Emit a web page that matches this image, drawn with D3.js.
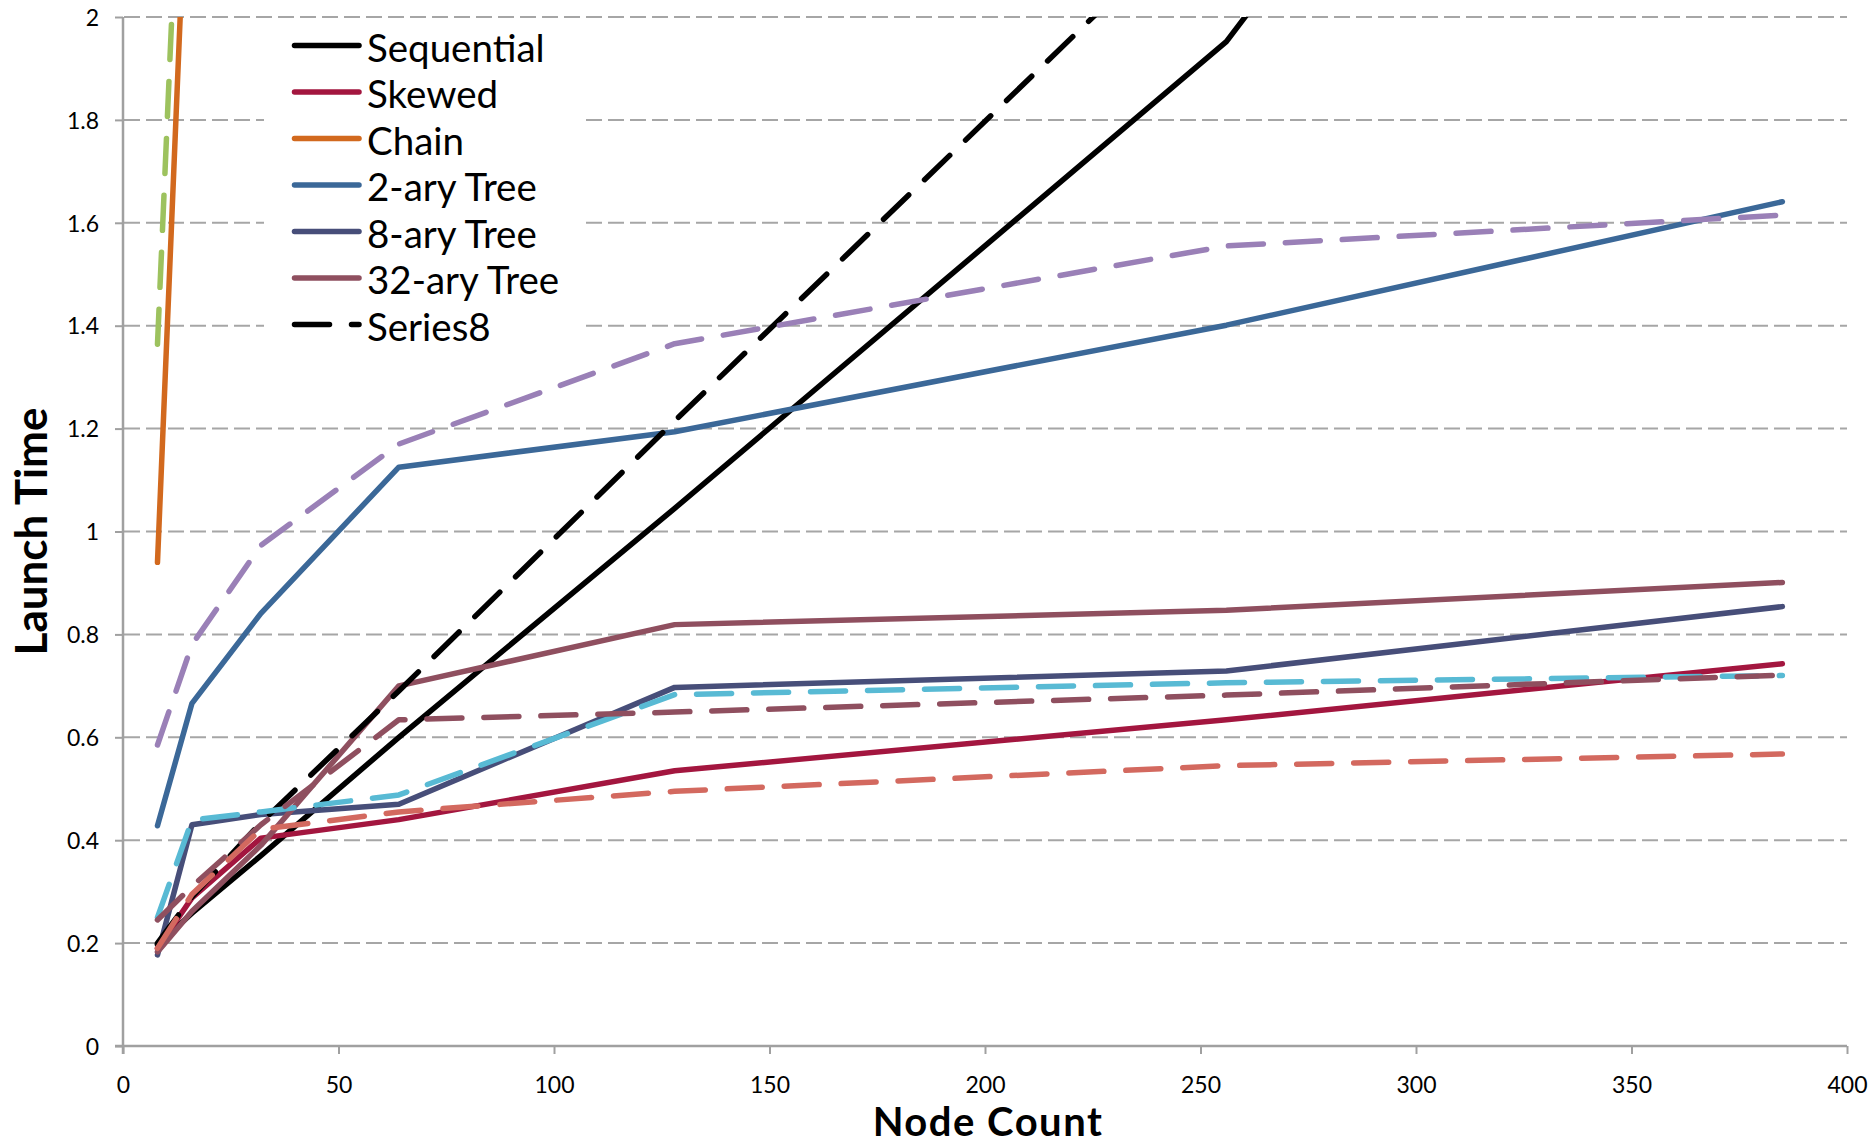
<!DOCTYPE html>
<html>
<head>
<meta charset="utf-8">
<script src="https://cdn.jsdelivr.net/npm/d3@7"></script>
<style>
  html, body { margin: 0; padding: 0; background: #ffffff; }
  svg { display: block; }
  text { font-family: Lato, "Open Sans", sans-serif; fill: #000; }
</style>
</head>
<body>
<svg id="chart" width="1871" height="1146"></svg>
<script>
// ---- data ----
const nodeCounts = [8, 16, 32, 64, 128, 256, 385];
const xTicks = [0, 50, 100, 150, 200, 250, 300, 350, 400];
const yTicks = [0, 0.2, 0.4, 0.6, 0.8, 1, 1.2, 1.4, 1.6, 1.8, 2];

const sequential = [0.197, 0.258, 0.37, 0.60, 1.045, 1.952, 3.38];
const skewed     = [0.19, 0.288, 0.404, 0.44, 0.535, 0.634, 0.743];
const chain      = [0.94, 2.55];
const tree2      = [0.428, 0.666, 0.841, 1.125, 1.194, 1.401, 1.641];
const tree8      = [0.177, 0.43, 0.45, 0.47, 0.697, 0.729, 0.854];
const tree32     = [0.183, 0.262, 0.39, 0.70, 0.819, 0.847, 0.901];
const series8    = [0.2, 0.29, 0.434, 0.69, 1.215, 2.25];
const series9    = [1.364, 2.9];
const series10   = [0.585, 0.78, 0.973, 1.17, 1.365, 1.555, 1.615];
const series11   = [0.25, 0.439, 0.455, 0.488, 0.683, 0.706, 0.72];
const series12   = [0.245, 0.31, 0.43, 0.634, 0.649, 0.682, 0.721];
const series13   = [0.19, 0.295, 0.421, 0.455, 0.495, 0.545, 0.5675];

const seriesNames  = ["Sequential", "Skewed", "Chain", "2-ary Tree", "8-ary Tree", "32-ary Tree", "Series8",
                      "Series9", "Series10", "Series11", "Series12", "Series13"];
const seriesValues = [sequential, skewed, chain, tree2, tree8, tree32, series8,
                      series9, series10, series11, series12, series13];
const seriesColors = ["#000000", "#a3163f", "#d2691e", "#3b6898", "#474e79", "#8f4f5f", "#000000",
                      "#9dc25e", "#9a80b7", "#58bad4", "#8f4f5f", "#d3695f"];
const seriesDashed = [false, false, false, false, false, false, true, true, true, true, true, true];
const legendCount = 7;

(function () {
  // ---- layout ----
  const pLeft = 123, pRight = 1847, pTop = 17, pBottom = 1046;
  const svg = d3.select("#chart");

  const x = d3.scaleLinear().domain([0, 400]).range([pLeft, pRight]);
  const y = d3.scaleLinear().domain([0, 2]).range([pBottom, pTop]);

  const gridColor = "#a6a6a6";
  const axisColor = "#a0a0a0";

  // gridlines
  svg.append("g").selectAll("line")
    .data(yTicks.filter(d => d > 0))
    .join("line")
    .attr("x1", pLeft + 1).attr("x2", pRight)
    .attr("y1", d => y(d)).attr("y2", d => y(d))
    .attr("stroke", gridColor).attr("stroke-width", 2)
    .attr("stroke-dasharray", "16,6");

  // y axis
  const yAxis = d3.axisLeft(y).tickValues(yTicks).tickSize(8).tickPadding(0)
    .tickFormat(d => String(+d.toFixed(1)));
  const gy = svg.append("g").attr("transform", `translate(${pLeft},0)`).call(yAxis);
  gy.select(".domain").remove();
  gy.selectAll(".tick line").attr("stroke", axisColor).attr("stroke-width", 2);
  gy.selectAll(".tick text")
    .attr("x", -24).attr("dy", "0.36em")
    .style("font-size", "23px").style("font-family", "Lato, sans-serif").attr("fill", "#000");

  // x axis
  const xAxis = d3.axisBottom(x).tickValues(xTicks).tickSize(8).tickPadding(0).tickFormat(d3.format("d"));
  const gx = svg.append("g").attr("transform", `translate(0,${pBottom})`).call(xAxis);
  gx.select(".domain").remove();
  gx.selectAll(".tick line").attr("stroke", axisColor).attr("stroke-width", 2);
  gx.selectAll(".tick text")
    .attr("y", 47).attr("dy", 0)
    .style("font-size", "23px").style("font-family", "Lato, sans-serif").attr("fill", "#000");

  // axis lines
  svg.append("line").attr("x1", pLeft).attr("x2", pLeft).attr("y1", pTop).attr("y2", pBottom + 8)
    .attr("stroke", axisColor).attr("stroke-width", 2.5);
  svg.append("line").attr("x1", pLeft - 8).attr("x2", pRight).attr("y1", pBottom).attr("y2", pBottom)
    .attr("stroke", axisColor).attr("stroke-width", 2.5);

  // clip
  svg.append("clipPath").attr("id", "plotclip")
    .append("rect").attr("x", pLeft).attr("y", pTop).attr("width", pRight - pLeft).attr("height", pBottom - pTop);

  const line = d3.line().x(d => x(d[0])).y(d => y(d[1]));

  const plot = svg.append("g").attr("clip-path", "url(#plotclip)");
  seriesValues.forEach((vals, i) => {
    const pts = vals.map((v, j) => [nodeCounts[j], v]);
    plot.append("path")
      .attr("d", line(pts))
      .attr("fill", "none")
      .attr("stroke", seriesColors[i])
      .attr("stroke-width", 5.5)
      .attr("stroke-linecap", "round")
      .attr("stroke-linejoin", "round")
      .attr("stroke-dasharray", seriesDashed[i] ? "35,22" : null);
  });

  // legend
  const lg = svg.append("g");
  lg.append("rect").attr("x", 264).attr("y", 24).attr("width", 321).attr("height", 326).attr("fill", "#fff");
  const rowY0 = 45.5, rowStep = 46.5;
  for (let i = 0; i < legendCount; i++) {
    const yy = rowY0 + i * rowStep;
    lg.append("line")
      .attr("x1", 294.5).attr("x2", 359).attr("y1", yy).attr("y2", yy)
      .attr("stroke", seriesColors[i]).attr("stroke-width", 5.5)
      .attr("stroke-linecap", "round")
      .attr("stroke-dasharray", seriesDashed[i] ? "35,22" : null);
    lg.append("text")
      .attr("x", 367).attr("y", yy + 16)
      .style("font-size", "38.5px")
      .text(seriesNames[i]);
  }

  // axis titles
  svg.append("text")
    .attr("transform", `translate(47,${(pTop + pBottom) / 2}) rotate(-90)`)
    .attr("text-anchor", "middle")
    .style("font-size", "44px").style("font-weight", "bold")
    .text("Launch Time");
  svg.append("text")
    .attr("x", (pLeft + pRight) / 2 + 3).attr("y", 1136)
    .attr("text-anchor", "middle")
    .style("font-size", "40px").style("font-weight", "bold")
    .style("letter-spacing", "1.5px")
    .text("Node Count");
})();
</script>
</body>
</html>
